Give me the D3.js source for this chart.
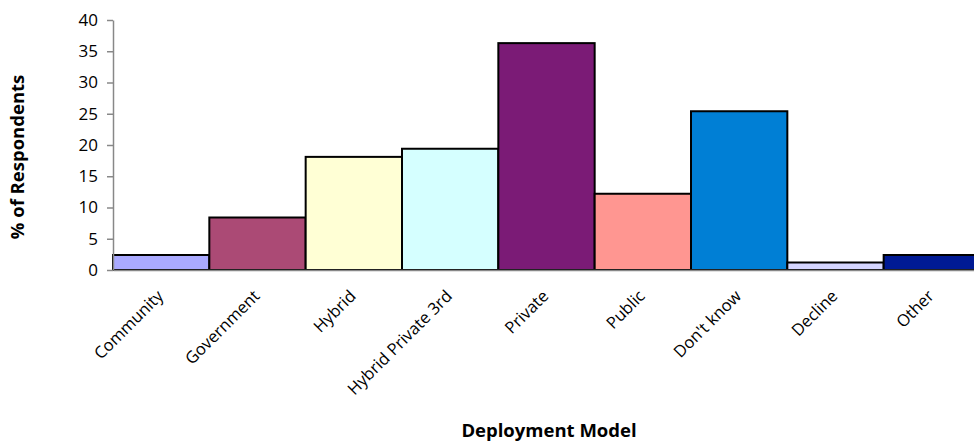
<!DOCTYPE html>
<html><head><meta charset="utf-8">
<script src="https://cdn.jsdelivr.net/npm/d3@7"></script>
<style>body{margin:0;background:#fff}svg{display:block}</style>
</head><body>
<script>
const categories = ["Community","Government","Hybrid","Hybrid Private 3rd","Private","Public","Don't know","Decline","Other"];
const values = [2.4, 8.4, 18.1, 19.4, 36.3, 12.2, 25.4, 1.2, 2.4];
const colors = ["#aaaaff","#ab4a75","#ffffd5","#d5ffff","#7b1b76","#ff9691","#007fd5","#d5d5ff","#001a94"];
const yTicks = [0,5,10,15,20,25,30,35,40];

const W = 974, H = 445;
const font = "'Open Sans', sans-serif";
const svg = d3.select("body").append("svg").attr("width", W).attr("height", H);

const x = d3.scaleBand().domain(categories).range([113, 980]).paddingInner(0).paddingOuter(0);
const y = d3.scaleLinear().domain([0, 40]).range([270, 20]);

svg.append("g").selectAll("rect").data(categories).join("rect")
  .attr("x", d => x(d)).attr("width", x.bandwidth())
  .attr("y", (d,i) => y(values[i])).attr("height", (d,i) => y(0) - y(values[i]))
  .attr("fill", (d,i) => colors[i]).attr("stroke", "#000").attr("stroke-width", 2);

const ya = svg.append("g").attr("transform", "translate(113,0)")
  .call(d3.axisLeft(y).tickValues(yTicks).tickSize(6).tickPadding(9).tickSizeOuter(0));
ya.select(".domain").attr("stroke", "#888").attr("stroke-width", 1.5);
ya.selectAll(".tick line").attr("stroke", "#888").attr("stroke-width", 1.5);
ya.selectAll(".tick text").attr("font-family", font).attr("font-size", 17).attr("fill", "#000");

const xa = svg.append("g").attr("transform", "translate(0,270)")
  .call(d3.axisBottom(x).tickSize(0).tickSizeOuter(0));
xa.select(".domain").attr("stroke", "#888").attr("stroke-width", 1.5);
xa.selectAll(".tick text")
  .attr("font-family", font).attr("font-size", 16.5).attr("fill", "#000")
  .attr("text-anchor", "end").attr("dy", "0.35em")
  .attr("transform", "translate(-1,23) rotate(-45)").attr("y", 0).attr("x", 0);

svg.append("text").attr("transform", "translate(24,157) rotate(-90)")
  .attr("text-anchor", "middle").attr("font-family", font).attr("font-size", 18.5)
  .attr("font-weight", "bold").text("% of Respondents");
svg.append("text").attr("x", 549).attr("y", 437)
  .attr("text-anchor", "middle").attr("font-family", font).attr("font-size", 18.5)
  .attr("font-weight", "bold").text("Deployment Model");
</script>
</body></html>
